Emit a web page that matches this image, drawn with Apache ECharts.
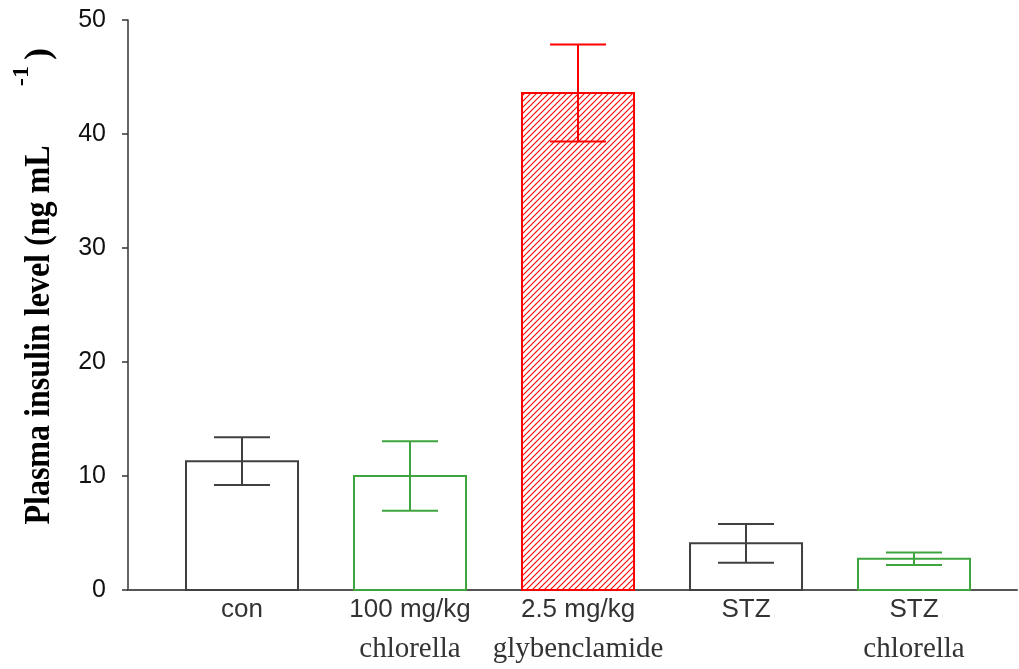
<!DOCTYPE html>
<html>
<head>
<meta charset="utf-8">
<script src="https://cdn.jsdelivr.net/npm/echarts@6/dist/echarts.min.js"></script>
<style>
  html, body { margin: 0; padding: 0; background: #ffffff; }
  #chart { width: 1019px; height: 669px; }
</style>
</head>
<body>
<div id="chart"></div>
<script>
// Treatment groups (two-line labels: dose line + agent line)
const groupLine1 = ['con', '100 mg/kg', '2.5 mg/kg', 'STZ', 'STZ'];
const groupLine2 = ['', 'chlorella', 'glybenclamide', '', 'chlorella'];

// Plasma insulin, ng/mL: mean and SEM per group
const meanInsulin = [11.3, 10.0, 43.6, 4.1, 2.75];
const semInsulin = [2.1, 3.05, 4.25, 1.7, 0.55];

// Value axis ticks
const yTicks = [0, 10, 20, 30, 40, 50];

const barColors = ['#404040', '#3ea43e', '#ff0000', '#404040', '#3ea43e'];
const hatched = [false, false, true, false, false];

// Diagonal hatch tile for the glybenclamide bar
function makeHatch(color) {
  const size = 6;
  const c = document.createElement('canvas');
  c.width = size; c.height = size;
  const g = c.getContext('2d');
  g.strokeStyle = color;
  g.lineWidth = 1.1;
  g.beginPath();
  g.moveTo(0, size); g.lineTo(size, 0);
  g.moveTo(-1, 1); g.lineTo(1, -1);
  g.moveTo(size - 1, size + 1); g.lineTo(size + 1, size - 1);
  g.stroke();
  return c;
}
const hatchTile = makeHatch('#ff0000');

const seriesData = meanInsulin.map((m, i) => [i, m, semInsulin[i]]);

const chart = echarts.init(document.getElementById('chart'), null, { renderer: 'canvas' });

function renderBar(params, api) {
  const i = api.value(0);
  const m = api.value(1);
  const s = api.value(2);
  const base = api.coord([i, 0]);
  const top = api.coord([i, m]);
  const hi = api.coord([i, m + s]);
  const lo = api.coord([i, m - s]);
  const bw = api.size([0.6667, 0])[0];
  const cw = api.size([0.3333, 0])[0];
  const col = barColors[i];
  const cx = base[0];
  const children = [
    {
      type: 'rect',
      shape: { x: cx - bw / 2, y: top[1], width: bw, height: base[1] - top[1] },
      style: {
        fill: hatched[i] ? { image: hatchTile, repeat: 'repeat' } : '#ffffff',
        stroke: col,
        lineWidth: 2
      }
    },
    { type: 'line', shape: { x1: cx, y1: hi[1], x2: cx, y2: lo[1] }, style: { stroke: col, lineWidth: 2 } },
    { type: 'line', shape: { x1: cx - cw / 2, y1: hi[1], x2: cx + cw / 2, y2: hi[1] }, style: { stroke: col, lineWidth: 2 } },
    { type: 'line', shape: { x1: cx - cw / 2, y1: lo[1], x2: cx + cw / 2, y2: lo[1] }, style: { stroke: col, lineWidth: 2 } },
    {
      type: 'text',
      style: {
        text: groupLine1[i], x: cx, y: base[1] + 20,
        align: 'center', verticalAlign: 'middle',
        font: '26px "Liberation Sans", Arial, sans-serif', fill: '#333333'
      }
    }
  ];
  if (groupLine2[i]) {
    children.push({
      type: 'text',
      style: {
        text: groupLine2[i], x: cx, y: base[1] + 59,
        align: 'center', verticalAlign: 'middle',
        font: '29px "Liberation Serif", "Times New Roman", serif', fill: '#333333'
      }
    });
  }
  return { type: 'group', children };
}

chart.setOption({
  animation: false,
  backgroundColor: '#ffffff',
  grid: { left: 128, right: 2, top: 20, bottom: 79 },
  xAxis: {
    type: 'value',
    min: -0.6786,
    max: 4.613,
    axisLine: { show: true, onZero: false, lineStyle: { color: '#555555', width: 2 } },
    axisTick: { show: false },
    axisLabel: { show: false },
    splitLine: { show: false }
  },
  yAxis: {
    type: 'value',
    min: yTicks[0],
    max: yTicks[yTicks.length - 1],
    interval: 10,
    axisLine: { show: true, onZero: false, lineStyle: { color: '#333333', width: 1.5 } },
    axisTick: { show: true, length: 6, lineStyle: { color: '#333333', width: 1.5 } },
    axisLabel: {
      margin: 22,
      fontSize: 25,
      color: '#111111',
      fontFamily: '"Liberation Sans", Arial, sans-serif'
    },
    splitLine: { show: false }
  },
  graphic: [
    {
      type: 'text',
      x: 40, y: 335,
      rotation: Math.PI / 2,
      scaleX: 0.89,
      style: {
        text: 'Plasma insulin level (ng mL',
        align: 'center', verticalAlign: 'middle',
        font: 'bold 36px "Liberation Serif", "Times New Roman", serif',
        fill: '#000000'
      }
    },
    {
      type: 'text',
      x: 22, y: 76,
      rotation: Math.PI / 2,
      style: {
        text: '-1',
        align: 'center', verticalAlign: 'middle',
        font: 'bold 24px "Liberation Serif", "Times New Roman", serif',
        fill: '#000000'
      }
    },
    {
      type: 'text',
      x: 40, y: 54,
      rotation: Math.PI / 2,
      style: {
        text: ')',
        align: 'center', verticalAlign: 'middle',
        font: 'bold 36px "Liberation Serif", "Times New Roman", serif',
        fill: '#000000'
      }
    }
  ],
  series: [{
    type: 'custom',
    clip: false,
    renderItem: renderBar,
    encode: { x: 0, y: 1 },
    data: seriesData
  }]
});
</script>
</body>
</html>
